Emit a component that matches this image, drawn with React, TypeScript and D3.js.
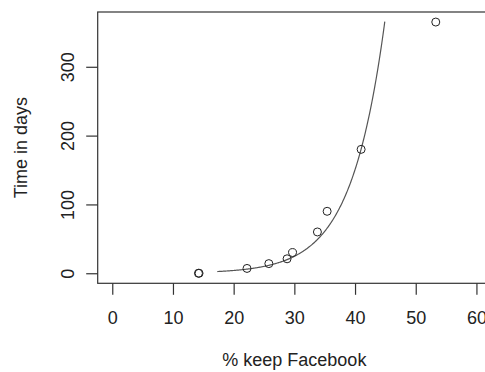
import { useRef, useEffect } from 'react'
import { select, scaleLinear, axisBottom, axisLeft, line, range } from 'd3'

// points
const pctKeep = [14.2, 14.3, 22.2, 25.8, 28.8, 29.7, 33.8, 35.4, 41.0, 53.3]
const timeDays = [0, 0, 7, 14, 21, 30, 60, 90, 180, 365]
const xTicks = [0, 10, 20, 30, 40, 50, 60]
const yTicks = [0, 100, 200, 300]

// exponential fit drawn over the plot (days = a * exp(b * pct))
const fitA = 0.108
const fitB = 0.181
const fitFrom = 17.3
const fitTo = 44.9

const W = 485
const H = 372
const box = { left: 97.7, right: 491, top: 12, bottom: 283.3 }
const FONT = '"Liberation Sans", Arial, Helvetica, sans-serif'
const INK = '#222'

export default function App() {
  const svgRef = useRef<SVGSVGElement>(null)

  useEffect(() => {
    const svg = select(svgRef.current)
    svg.selectAll('*').remove()

    const x = scaleLinear().domain([-2.4, 62.4]).range([box.left, box.right])
    const y = scaleLinear().domain([-14.6, 379.6]).range([box.bottom, box.top])

    // box (right side is off the picture)
    svg.append('rect')
      .attr('x', box.left)
      .attr('y', box.top)
      .attr('width', box.right - box.left)
      .attr('height', box.bottom - box.top)
      .attr('fill', 'none')
      .attr('stroke', '#333')
      .attr('stroke-width', 1.2)

    const xAxis = svg.append('g')
      .attr('transform', `translate(0,${box.bottom})`)
      .call(axisBottom(x).tickValues(xTicks).tickSize(11.5).tickPadding(17))
    xAxis.select('.domain').remove()
    xAxis.selectAll('line').attr('stroke', '#333').attr('stroke-width', 1.2)
    xAxis.selectAll('text')
      .attr('fill', INK)
      .style('font-family', FONT)
      .style('font-size', '18px')
      .attr('dy', null)
      .attr('y', 41)

    const yAxis = svg.append('g')
      .attr('transform', `translate(${box.left},0)`)
      .call(axisLeft(y).tickValues(yTicks).tickSize(11.5))
    yAxis.select('.domain').remove()
    yAxis.selectAll('line').attr('stroke', '#333').attr('stroke-width', 1.2)
    yAxis.selectAll('text')
      .attr('fill', INK)
      .style('font-family', FONT)
      .style('font-size', '18px')
      .attr('transform', 'rotate(-90)')
      .attr('text-anchor', 'middle')
      .attr('dy', null)
      .attr('x', 0)
      .attr('y', -23.7)

    const fitLine = line<number>()
      .x(d => x(d))
      .y(d => y(fitA * Math.exp(fitB * d)))
    svg.append('path')
      .datum(range(fitFrom, fitTo, 0.1).concat([fitTo]))
      .attr('d', fitLine)
      .attr('fill', 'none')
      .attr('stroke', '#555')
      .attr('stroke-width', 1.2)

    svg.selectAll('.pt')
      .data(pctKeep)
      .join('circle')
      .attr('class', 'pt')
      .attr('cx', d => x(d))
      .attr('cy', (_, i) => y(timeDays[i]))
      .attr('r', 4)
      .attr('fill', 'none')
      .attr('stroke', INK)
      .attr('stroke-width', 1)

    svg.append('text')
      .attr('x', (box.left + box.right) / 2)
      .attr('y', 366)
      .attr('text-anchor', 'middle')
      .attr('fill', INK)
      .style('font-family', FONT)
      .style('font-size', '18px')
      .text('% keep Facebook')

    svg.append('text')
      .attr('transform', `translate(27,${(box.top + box.bottom) / 2}) rotate(-90)`)
      .attr('text-anchor', 'middle')
      .attr('fill', INK)
      .style('font-family', FONT)
      .style('font-size', '18px')
      .text('Time in days')
  }, [])

  return (
    <div style={{ position: 'absolute', left: 0, top: 0 }}>
      <svg ref={svgRef} width={W} height={H} style={{ display: 'block', background: '#fff' }} />
    </div>
  )
}
